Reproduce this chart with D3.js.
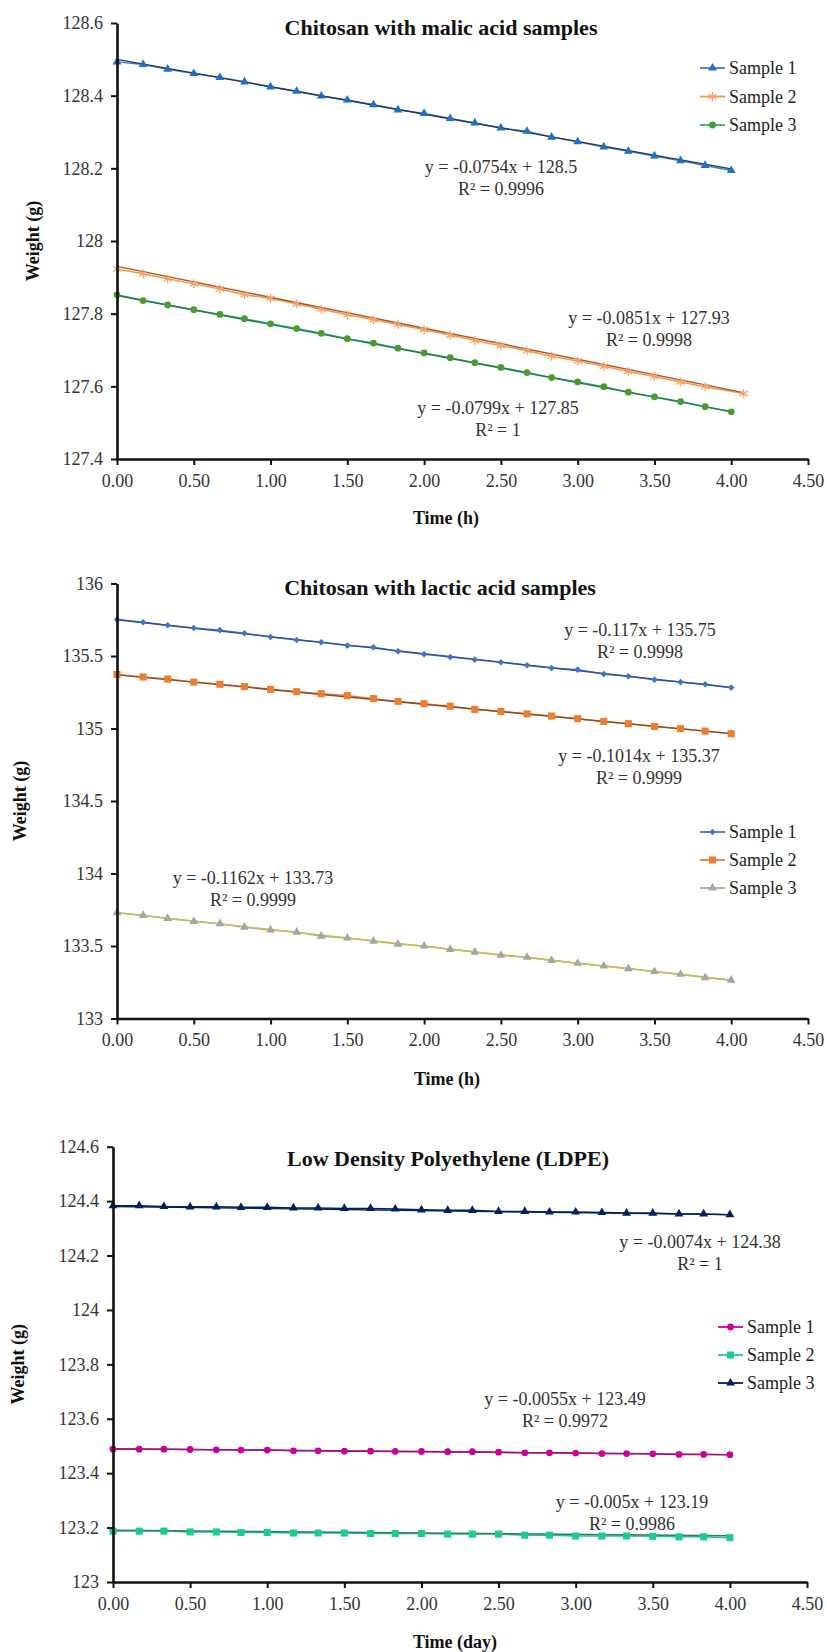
<!DOCTYPE html>
<html>
<head>
<meta charset="utf-8">
<script src="https://cdn.jsdelivr.net/npm/d3@7"></script>
<style>
  body { margin: 0; background: #fff; }
  text { font-family: "Liberation Serif", "Times New Roman", serif; }
</style>
</head>
<body>
<svg id="fig" width="827" height="1652"></svg>
<script>
// sampling times (every 10 min / 1/6 day)
var times = [0, 0.17, 0.33, 0.5, 0.67, 0.83, 1, 1.17, 1.33, 1.5, 1.67, 1.83, 2,
             2.17, 2.33, 2.5, 2.67, 2.83, 3, 3.17, 3.33, 3.5, 3.67, 3.83, 4];
var timesMalic2 = [0, 0.17, 0.33, 0.5, 0.67, 0.83, 1, 1.17, 1.33, 1.5, 1.67, 1.83, 2,
             2.17, 2.33, 2.5, 2.67, 2.83, 3, 3.17, 3.33, 3.5, 3.67, 3.83, 4.08];
var xTicks = [0, 0.5, 1, 1.5, 2, 2.5, 3, 3.5, 4, 4.5];
var sampleNames = ["Sample 1", "Sample 2", "Sample 3"];

// chitosan + malic acid
var malicS1 = [128.493, 128.486, 128.473, 128.461, 128.450, 128.438, 128.424, 128.412, 128.399, 128.388, 128.375, 128.361,
               128.351, 128.337, 128.325, 128.311, 128.302, 128.286, 128.273, 128.259, 128.247, 128.234, 128.221, 128.208, 128.194];
var malicS2 = [127.923, 127.910, 127.896, 127.882, 127.868, 127.852, 127.842, 127.827, 127.812, 127.797, 127.783, 127.770,
               127.756, 127.741, 127.726, 127.712, 127.698, 127.683, 127.670, 127.655, 127.641, 127.627, 127.612, 127.599, 127.580];
var malicS3 = [127.852, 127.836, 127.824, 127.811, 127.798, 127.786, 127.772, 127.759, 127.746, 127.731, 127.719, 127.705,
               127.692, 127.679, 127.665, 127.652, 127.638, 127.624, 127.612, 127.599, 127.584, 127.571, 127.558, 127.544, 127.530];
var malicSlopes = [-0.0754, -0.0851, -0.0799];
var malicIntercepts = [128.5, 127.93, 127.85];
var malicR2 = ["0.9996", "0.9998", "1"];
var malicYTicks = [127.4, 127.6, 127.8, 128, 128.2, 128.4, 128.6];

// chitosan + lactic acid
var lacticS1 = [135.751, 135.733, 135.712, 135.693, 135.678, 135.657, 135.631, 135.610, 135.595, 135.572, 135.560, 135.532,
                135.512, 135.493, 135.475, 135.457, 135.436, 135.417, 135.406, 135.376, 135.360, 135.337, 135.320, 135.305, 135.282];
var lacticS2 = [135.372, 135.355, 135.341, 135.320, 135.305, 135.289, 135.270, 135.254, 135.240, 135.227, 135.206, 135.187,
                135.171, 135.153, 135.132, 135.118, 135.101, 135.086, 135.068, 135.049, 135.033, 135.014, 134.999, 134.982, 134.964];
var lacticS3 = [133.730, 133.711, 133.690, 133.670, 133.654, 133.630, 133.610, 133.596, 133.568, 133.555, 133.534, 133.513,
                133.500, 133.477, 133.458, 133.436, 133.422, 133.401, 133.381, 133.362, 133.344, 133.324, 133.305, 133.282, 133.264];
var lacticSlopes = [-0.117, -0.1014, -0.1162];
var lacticIntercepts = [135.75, 135.37, 133.73];
var lacticR2 = ["0.9998", "0.9999", "0.9999"];
var lacticYTicks = [133, 133.5, 134, 134.5, 135, 135.5, 136];

// LDPE
var ldpeS1 = [123.488, 123.488, 123.488, 123.487, 123.486, 123.485, 123.485, 123.482, 123.482, 123.481, 123.481, 123.480,
              123.480, 123.479, 123.479, 123.477, 123.475, 123.475, 123.474, 123.472, 123.472, 123.471, 123.469, 123.469, 123.468];
var ldpeS2 = [123.187, 123.187, 123.187, 123.184, 123.184, 123.182, 123.182, 123.180, 123.180, 123.180, 123.178, 123.178,
              123.178, 123.176, 123.176, 123.176, 123.172, 123.172, 123.169, 123.169, 123.169, 123.168, 123.166, 123.166, 123.163];
var ldpeS3 = [124.383, 124.383, 124.380, 124.379, 124.379, 124.377, 124.377, 124.375, 124.375, 124.373, 124.373, 124.371,
              124.368, 124.366, 124.366, 124.362, 124.362, 124.360, 124.360, 124.358, 124.356, 124.356, 124.353, 124.353, 124.350];
var ldpeSlopes = [-0.0055, -0.005, -0.0074];
var ldpeIntercepts = [123.49, 123.19, 124.38];
var ldpeR2 = ["0.9972", "0.9986", "1"];
var ldpeYTicks = [123, 123.2, 123.4, 123.6, 123.8, 124, 124.2, 124.4, 124.6];

var svg = d3.select("#fig");

var panels = [
  {
    title: "Chitosan with malic acid samples", titleX: 441, titleY: 27,
    xLabel: "Time (h)", xLabelY: 518, xLabelX: 446, yLabelX: 33,
    left: 117, right: 808, top: 23, bottom: 459,
    yDomain: [127.4, 128.6], yTicks: malicYTicks,
    legend: { x: 700, y: 68, dy: 28.5 },
    series: [
      { x: times, y: malicS1, shape: "triangle", fill: "#1f6fc4", line: "#4a7ebb", trend: "#1f3864",
        eqX: 501, eqY: 167 },
      { x: timesMalic2, y: malicS2, shape: "asterisk", fill: "#f5a26b", line: "#f79646", trend: "#a8552a",
        eqX: 649, eqY: 318 },
      { x: times, y: malicS3, shape: "circle", fill: "#4a9a32", line: "#33b35a", trend: "#1f7a52",
        eqX: 498, eqY: 408 }
    ],
    slopes: malicSlopes, intercepts: malicIntercepts, r2: malicR2
  },
  {
    title: "Chitosan with lactic acid samples", titleX: 440, titleY: 587,
    xLabel: "Time (h)", xLabelY: 1079, xLabelX: 447, yLabelX: 20,
    left: 117, right: 808, top: 583.5, bottom: 1018.5,
    yDomain: [133, 136], yTicks: lacticYTicks,
    legend: { x: 700, y: 832, dy: 28 },
    series: [
      { x: times, y: lacticS1, shape: "diamond", fill: "#4472c4", line: "#4472c4", trend: "#2e4f96",
        eqX: 640, eqY: 630 },
      { x: times, y: lacticS2, shape: "square", fill: "#ed7d31", line: "#ed7d31", trend: "#8b4a26",
        eqX: 639, eqY: 756 },
      { x: times, y: lacticS3, shape: "triangle", fill: "#a5a5a5", line: "#a5a5a5", trend: "#cbbf45",
        eqX: 253, eqY: 878 }
    ],
    slopes: lacticSlopes, intercepts: lacticIntercepts, r2: lacticR2
  },
  {
    title: "Low Density Polyethylene (LDPE)", titleX: 448, titleY: 1158,
    xLabel: "Time (day)", xLabelY: 1642, xLabelX: 455, yLabelX: 18,
    left: 113, right: 807, top: 1146.7, bottom: 1582,
    yDomain: [123, 124.6], yTicks: ldpeYTicks,
    legend: { x: 718, y: 1327, dy: 28 },
    series: [
      { x: times, y: ldpeS1, shape: "circle", fill: "#cc0099", line: "#cc0099", trend: "#8e1a6a",
        eqX: 565, eqY: 1399 },
      { x: times, y: ldpeS2, shape: "square", fill: "#1bc99a", line: "#1bc99a", trend: "#2e7d5b",
        eqX: 632, eqY: 1502 },
      { x: times, y: ldpeS3, shape: "triangle", fill: "#002060", line: "#002060", trend: "#002060",
        eqX: 700, eqY: 1242 }
    ],
    slopes: ldpeSlopes, intercepts: ldpeIntercepts, r2: ldpeR2
  }
];

function markerPath(shape) {
  if (shape === "triangle") return d3.symbol().type(d3.symbolTriangle).size(34)();
  if (shape === "circle") return d3.symbol().type(d3.symbolCircle).size(36)();
  if (shape === "square") return d3.symbol().type(d3.symbolSquare).size(50)();
  if (shape === "diamond") return d3.symbol().type(d3.symbolSquare).size(22)();
  // asterisk
  return "M0,-4.5V4.5M-4,-2.5L4,2.5M-4,2.5L4,-2.5";
}

function addMarker(g, s, cx, cy) {
  var m = g.append("path")
      .attr("d", markerPath(s.shape))
      .attr("transform", "translate(" + cx + "," + cy + ")" + (s.shape === "diamond" ? " rotate(45)" : ""));
  if (s.shape === "asterisk") {
    m.attr("fill", "none").attr("stroke", s.fill).attr("stroke-width", 1.3);
  } else {
    m.attr("fill", s.fill);
  }
}

var fmtX = d3.format(".2f");

function drawPanel(p) {
  var x = d3.scaleLinear().domain([0, 4.5]).range([p.left, p.right]);
  var y = d3.scaleLinear().domain(p.yDomain).range([p.bottom, p.top]);
  var g = svg.append("g");

  // series lines
  p.series.forEach(function(s, i) {
    var pts = s.x.map(function(t, j) { return [t, s.y[j]]; });
    g.append("path")
      .datum(pts)
      .attr("fill", "none")
      .attr("stroke", s.line)
      .attr("stroke-width", 1.5)
      .attr("d", d3.line().x(function(d) { return x(d[0]); }).y(function(d) { return y(d[1]); }));

    // linear trendline
    var x0 = d3.min(s.x), x1 = d3.max(s.x);
    g.append("line")
      .attr("x1", x(x0)).attr("y1", y(p.intercepts[i] + p.slopes[i] * x0))
      .attr("x2", x(x1)).attr("y2", y(p.intercepts[i] + p.slopes[i] * x1))
      .attr("stroke", s.trend)
      .attr("stroke-width", 1.4);
  });

  p.series.forEach(function(s) {
    s.x.forEach(function(t, j) { addMarker(g, s, x(t), y(s.y[j])); });
  });

  // axes
  var yAxis = g.append("g")
      .attr("transform", "translate(" + p.left + ",0)")
      .call(d3.axisLeft(y).tickValues(p.yTicks).tickSize(6).tickSizeOuter(0).tickPadding(8)
            .tickFormat(function(d) { return String(d); }));
  var xAxis = g.append("g")
      .attr("transform", "translate(0," + p.bottom + ")")
      .call(d3.axisBottom(x).tickValues(xTicks).tickSize(6).tickSizeOuter(0).tickPadding(9)
            .tickFormat(fmtX));
  [xAxis, yAxis].forEach(function(a) {
    a.select(".domain").attr("stroke", "#111").attr("stroke-width", 2.6);
    a.selectAll(".tick line").attr("stroke", "#111").attr("stroke-width", 2);
    a.selectAll(".tick text").attr("fill", "#333").style("font-size", "18px")
      .style("font-family", "Liberation Serif");
  });

  // title and axis titles
  g.append("text")
    .attr("x", p.titleX).attr("y", p.titleY).attr("dy", "0.35em")
    .attr("text-anchor", "middle")
    .style("font-size", "22px").style("font-weight", "bold")
    .attr("fill", "#111")
    .text(p.title);
  g.append("text")
    .attr("x", p.xLabelX).attr("y", p.xLabelY).attr("dy", "0.35em")
    .attr("text-anchor", "middle")
    .style("font-size", "18px").style("font-weight", "bold")
    .attr("fill", "#111")
    .text(p.xLabel);
  g.append("text")
    .attr("transform", "translate(" + p.yLabelX + "," + (p.top + p.bottom) / 2 + ") rotate(-90)")
    .attr("dy", "0.35em")
    .attr("text-anchor", "middle")
    .style("font-size", "18px").style("font-weight", "bold")
    .attr("fill", "#111")
    .text("Weight (g)");

  // trendline equations
  p.series.forEach(function(s, i) {
    var t = g.append("text")
        .attr("text-anchor", "middle")
        .style("font-size", "18px")
        .attr("fill", "#333");
    t.append("tspan").attr("x", s.eqX).attr("y", s.eqY).attr("dy", "0.35em")
      .text("y = " + p.slopes[i] + "x + " + p.intercepts[i]);
    t.append("tspan").attr("x", s.eqX).attr("y", s.eqY + 21.5).attr("dy", "0.35em")
      .text("R\u00b2 = " + p.r2[i]);
  });

  // legend
  var lg = g.append("g").attr("transform", "translate(" + p.legend.x + "," + p.legend.y + ")");
  p.series.forEach(function(s, i) {
    var row = lg.append("g").attr("transform", "translate(0," + i * p.legend.dy + ")");
    row.append("line").attr("x1", 0).attr("x2", 25).attr("y1", 0).attr("y2", 0)
      .attr("stroke", s.line).attr("stroke-width", 1.8);
    addMarker(row, s, 12.5, 0);
    row.append("text").attr("x", 29).attr("y", 0).attr("dy", "0.35em")
      .style("font-size", "18px").attr("fill", "#222")
      .text(sampleNames[i]);
  });
}

panels.forEach(drawPanel);
</script>
</body>
</html>
